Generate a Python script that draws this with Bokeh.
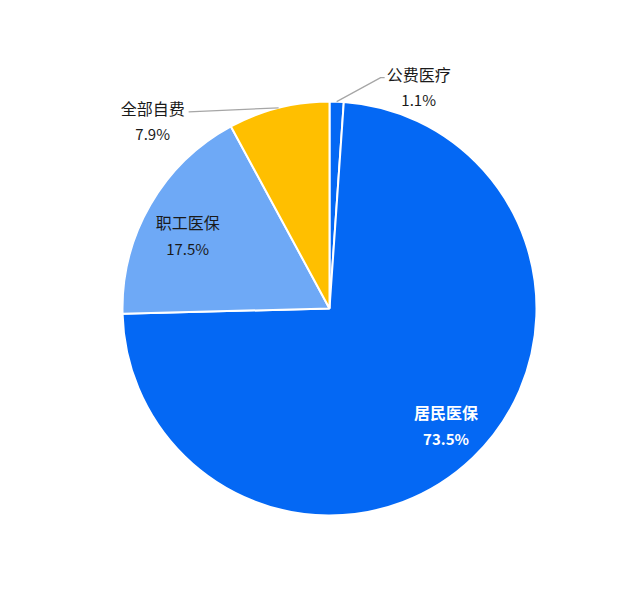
import math
from bokeh.plotting import figure
from bokeh.models import Range1d, ColumnDataSource
from bokeh.core.properties import value
from bokeh.embed import file_html
from bokeh.resources import INLINE

categories = ["公费医疗", "居民医保", "职工医保", "全部自费"]
shares = [1.1, 73.5, 17.5, 7.9]
colors = ["#0468F4", "#0468F4", "#6EA9F6", "#FFBF00"]

W, H = 624, 590
cx, cy, R = 329, 282, 207
FONT = "Noto Sans CJK SC"

p = figure(width=W, height=H, output_backend="svg", toolbar_location=None,
           x_range=Range1d(0, W), y_range=Range1d(0, H), min_border=0)
p.axis.visible = False
p.grid.visible = False
p.outline_line_color = None
p.background_fill_color = "white"

total = sum(shares)
starts, ends, mids = [], [], []
cum = 0.0
for s in shares:
    a0 = math.pi / 2 - 2 * math.pi * cum / total
    cum += s
    a1 = math.pi / 2 - 2 * math.pi * cum / total
    starts.append(a0)
    ends.append(a1)
    mids.append((a0 + a1) / 2)

src = ColumnDataSource(dict(start=starts, end=ends, color=colors))
p.wedge(x=cx, y=cy, radius=R, start_angle="start", end_angle="end",
        direction="clock", fill_color="color", line_color="white",
        line_width=2, source=src)


def label(x, y, name, pct, col, style, gap):
    p.text(x=[x], y=[y], text=[name], text_align="center",
           text_baseline="middle", text_font=value(FONT), text_font_size="16px",
           text_color=col, text_font_style=style)
    p.text(x=[x], y=[y - gap], text=[pct], text_align="center",
           text_baseline="middle", text_font=value(FONT), text_font_size="15px",
           text_color=col, text_font_style=style)


# inside labels: colour, weight, radius fraction, angular nudge (deg)
inside = {1: ("white", "bold", 0.797, 1.2), 2: ("#1A1A1A", "normal", 0.771, 2.8)}
for i, (col, style, f, nudge) in inside.items():
    a = mids[i] + math.radians(nudge)
    lx = cx + f * R * math.cos(a)
    ly = cy + f * R * math.sin(a)
    label(lx, ly + 13, categories[i], f"{shares[i]:.1f}%", col, style, 26)

# outside labels with leader lines
outside = {0: ((44, 24), (48, 24), (82, 28)),
           3: ((-90, -4), (-90, -4), (-126, 0))}
for i, (elbow, end, lab) in outside.items():
    ex = cx + R * math.cos(mids[i])
    ey = cy + R * math.sin(mids[i])
    px = [ex, ex + elbow[0], ex + end[0]]
    py = [ey, ey + elbow[1], ey + end[1]]
    p.line(px, py, line_color="#A6A6A6", line_width=1.2)
    label(ex + lab[0], ey + lab[1], categories[i], f"{shares[i]:.1f}%",
          "#1A1A1A", "normal", 26)

open("out.html", "w").write(file_html(p, INLINE))
